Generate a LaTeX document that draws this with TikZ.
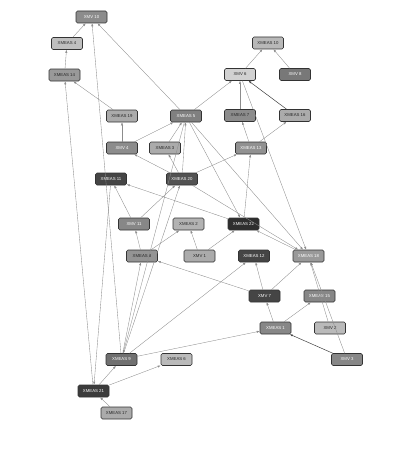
\documentclass[tikz,border=0pt]{standalone}
\usepackage{fontspec}
\setmainfont{Liberation Sans}
\usetikzlibrary{arrows.meta}
\begin{document}
\begin{tikzpicture}[x=1pt,y=-1pt,
  nd/.style={draw=black!80, rounded corners=1.5pt, minimum width=31pt, minimum height=12pt,
    inner sep=0pt, line width=0.6pt, font=\fontsize{4.3}{5}\selectfont},
  dk/.style={nd, text=white},
  lt/.style={nd, text=black!85},
  ed/.style={-{Latex[length=3pt,width=2.2pt]}, draw=black!45, line width=0.35pt},
  edk/.style={ed, draw=black!75, line width=0.5pt}]
\useasboundingbox (0,0) rectangle (415,460);
% nodes
\node[dk, fill=black!45] (xmv10) at (91.5,17) {XMV 10};
\node[lt, fill=black!25] (xm4) at (67,43.5) {XMEAS 4};
\node[lt, fill=black!40] (xm14) at (64.5,75) {XMEAS 14};
\node[lt, fill=black!33] (xm19) at (122,116) {XMEAS 19};
\node[dk, fill=black!50] (xm5) at (186,116) {XMEAS 5};
\node[lt, fill=black!28] (xm10) at (268,43) {XMEAS 10};
\node[lt, fill=black!18] (xmv6) at (240,74.5) {XMV 6};
\node[dk, fill=black!53] (xmv8) at (295,74.5) {XMV 8};
\node[lt, fill=black!45] (xm7) at (240,115.5) {XMEAS 7};
\node[lt, fill=black!33] (xm16) at (295,115.5) {XMEAS 16};
\node[dk, fill=black!45] (xmv4) at (122,148) {XMV 4};
\node[lt, fill=black!33] (xm3) at (165,148) {XMEAS 3};
\node[dk, fill=black!43] (xm13) at (251,148) {XMEAS 13};
\node[dk, fill=black!73] (xm11) at (111,179) {XMEAS 11};
\node[dk, fill=black!68] (xm20) at (182,179) {XMEAS 20};
\node[dk, fill=black!47] (xmv11) at (134,224) {XMV 11};
\node[lt, fill=black!30] (xm2) at (188.5,224) {XMEAS 2};
\node[dk, fill=black!82] (xm22) at (243.5,224) {XMEAS 22};
\node[lt, fill=black!42] (xm8) at (142,256) {XMEAS 8};
\node[lt, fill=black!33] (xmv1) at (199.5,256) {XMV 1};
\node[dk, fill=black!73] (xm12) at (254,256) {XMEAS 12};
\node[dk, fill=black!40] (xm18) at (308.5,256) {XMEAS 18};
\node[dk, fill=black!73] (xmv7) at (264.5,296) {XMV 7};
\node[dk, fill=black!47] (xm15) at (319.5,296) {XMEAS 15};
\node[dk, fill=black!47] (xm1) at (275.5,328) {XMEAS 1};
\node[lt, fill=black!27] (xmv2) at (330,328) {XMV 2};
\node[dk, fill=black!47] (xmv3) at (347,359.5) {XMV 3};
\node[dk, fill=black!56] (xm9) at (121.5,359.5) {XMEAS 9};
\node[lt, fill=black!27] (xm6) at (176.5,359.5) {XMEAS 6};
\node[dk, fill=black!77] (xm21) at (93.5,391) {XMEAS 21};
\node[lt, fill=black!33] (xm17) at (116.5,413) {XMEAS 17};
% edges
\draw[ed] (xm4) -- (xmv10);
\draw[ed] (xm14) -- (xm4);
\draw[ed] (xm19) -- (xm14);
\draw[ed] (xm5) -- (xmv10);
\draw[ed] (xm9) -- (xmv10);
\draw[ed] (xm21) -- (xm14);
\draw[ed] (xm11) -- (xm21);
\draw[ed] (xmv4) -- (xm19);
\draw[ed] (xmv4) -- (xm5);
\draw[ed] (xm3) -- (xm5);
\draw[ed] (xm20) -- (xm5);
\draw[ed] (xm20) -- (xm3);
\draw[ed] (xm20) -- (xmv4);
\draw[ed] (xm20) -- (xm13);
\draw[ed] (xm5) -- (xmv6);
\draw[ed] (xm5) -- (xm22);
\draw[ed] (xm5) -- (xm18);
\draw[ed] (xmv6) -- (xm10);
\draw[ed] (xmv8) -- (xm10);
\draw[ed] (xm7) -- (xmv6);
\draw[edk] (xm16) -- (xmv6);
\draw[ed] (xm13) -- (xm7);
\draw[ed] (xm13) -- (xm16);
\draw[ed] (xmv6) -- (xm18);
\draw[ed] (xm22) -- (xm13);
\draw[ed] (xm22) -- (xm11);
\draw[ed] (xmv11) -- (xm11);
\draw[ed] (xmv11) -- (xm20);
\draw[ed] (xm8) -- (xmv11);
\draw[ed] (xm8) -- (xm2);
\draw[ed] (xmv1) -- (xm2);
\draw[ed] (xmv1) -- (xm22);
\draw[ed] (xm18) -- (xm22);
\draw[ed] (xm20) -- (xm18);
\draw[ed] (xmv7) -- (xm8);
\draw[ed] (xmv7) -- (xm12);
\draw[ed] (xmv7) -- (xm18);
\draw[ed] (xm1) -- (xmv7);
\draw[ed] (xm1) -- (xm15);
\draw[edk] (xmv3) -- (xm1);
\draw[ed] (xm9) -- (xm1);
\draw[ed] (xm9) -- (xm12);
\draw[ed] (xm9) -- (xm8);
\draw[ed] (xm9) -- (xm20);
\draw[ed] (xm5) -- (xm9);
\draw[ed] (xm21) -- (xm9);
\draw[ed] (xm21) -- (xm6);
\draw[ed] (xm17) -- (xm21);
\draw[ed] (xmv2) -- (xm18);
\draw[ed] (xmv3) -- (xm18);
\end{tikzpicture}
\end{document}
